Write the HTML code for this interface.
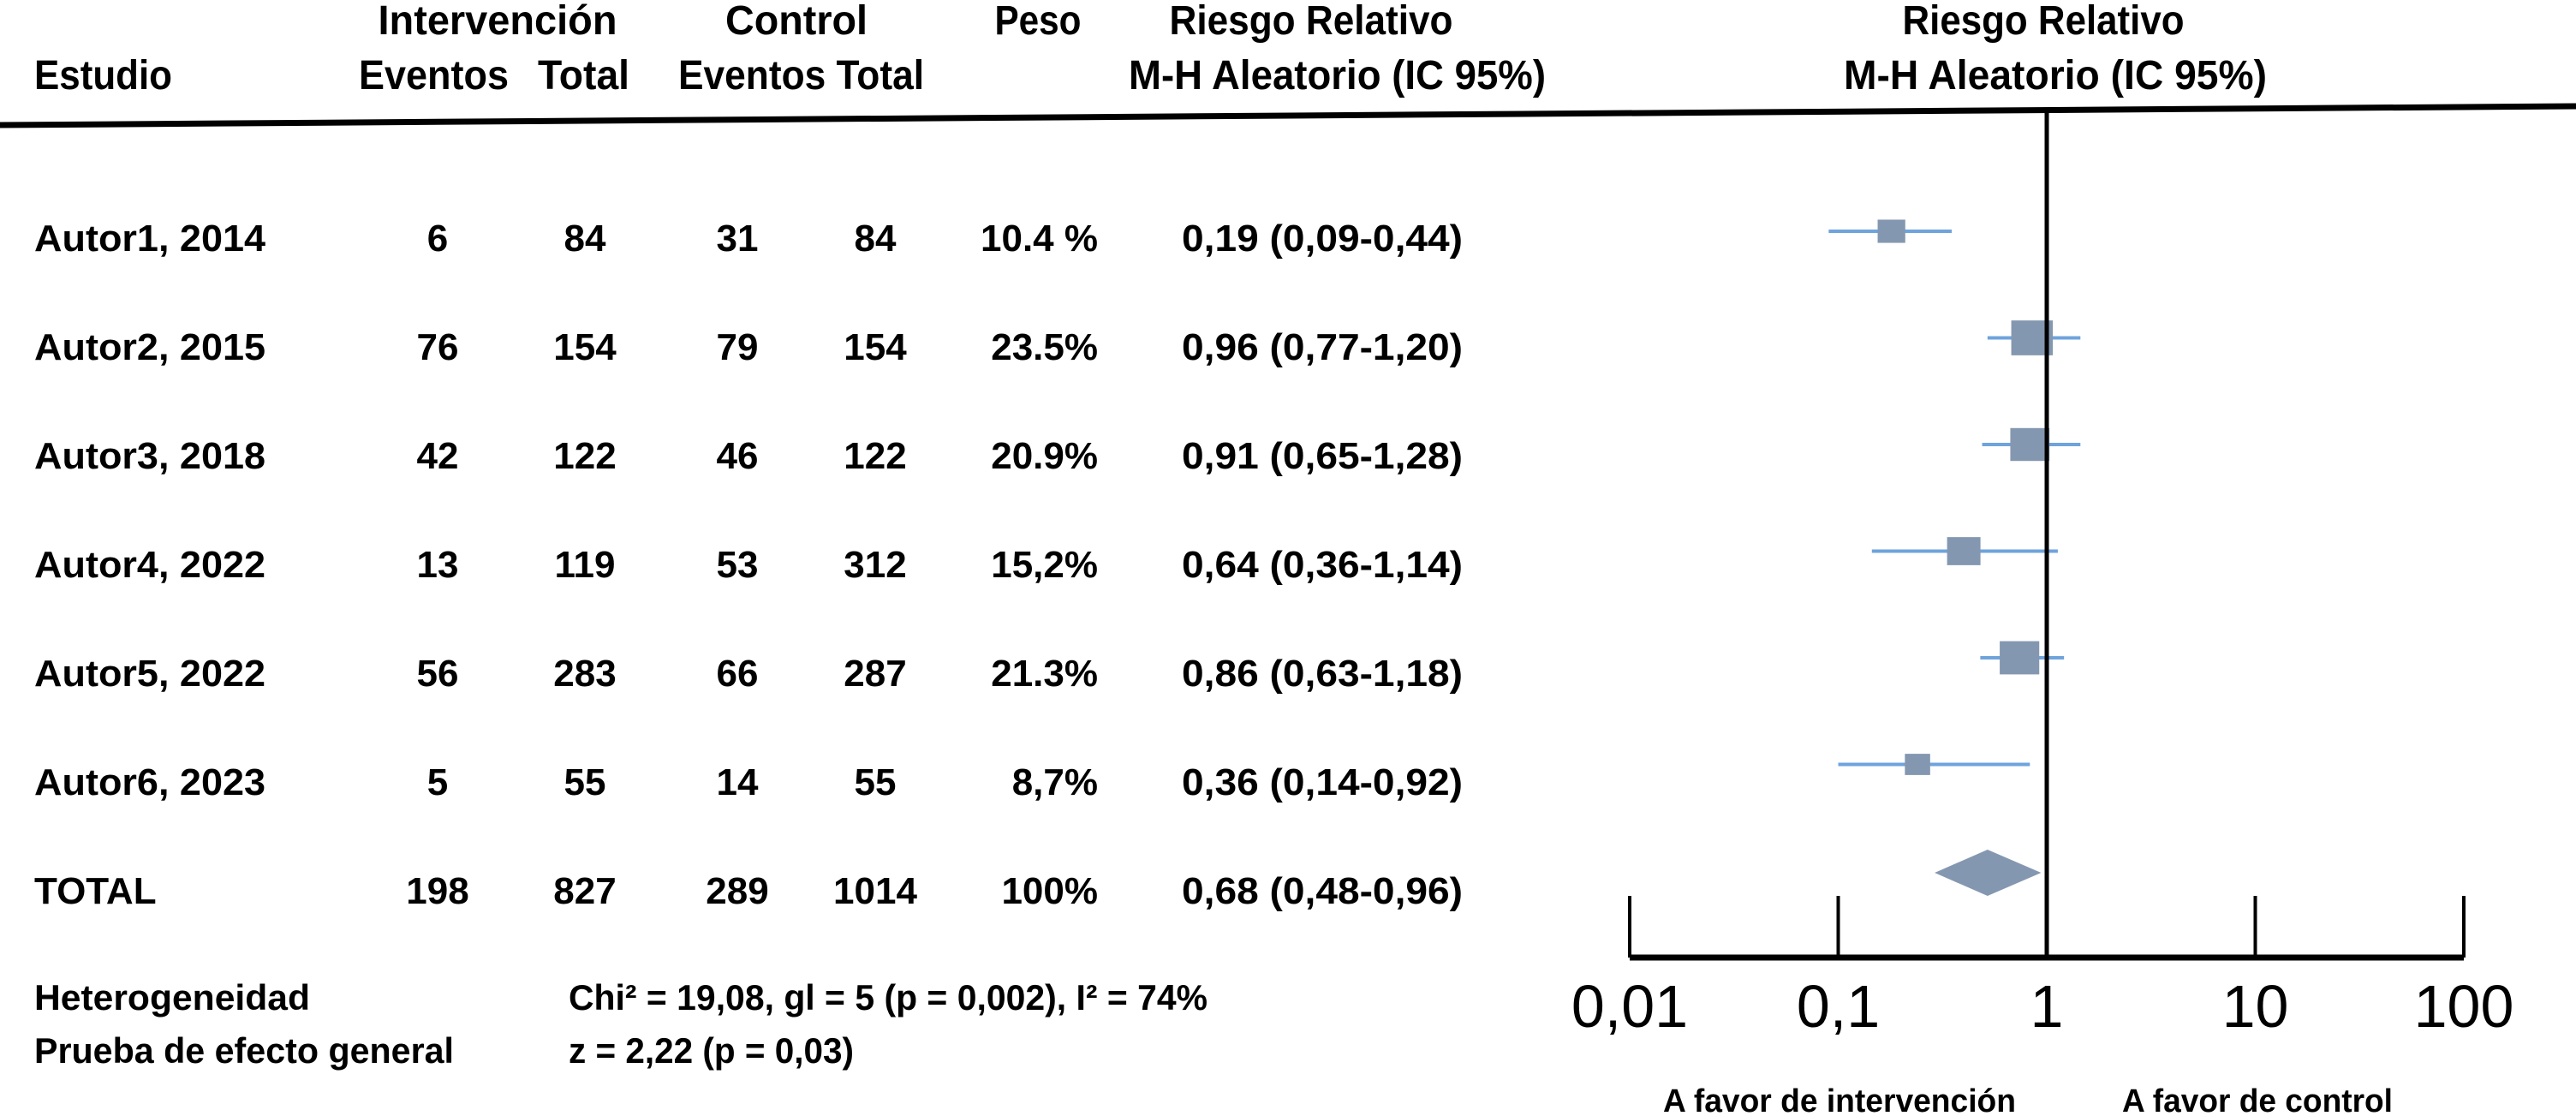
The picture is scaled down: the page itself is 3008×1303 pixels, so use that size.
<!DOCTYPE html>
<html><head><meta charset="utf-8"><style>
html,body{margin:0;padding:0;background:#fff;}
svg{display:block;}
text{font-family:"Liberation Sans Narrow","Liberation Sans",sans-serif;font-weight:bold;fill:#000;}
</style></head><body>
<svg id="plot" width="3008" height="1303" viewBox="0 0 3008 1303" xmlns="http://www.w3.org/2000/svg">
<g font-size="48">
<text x="581" y="40" text-anchor="middle" textLength="279" lengthAdjust="spacingAndGlyphs">Intervención</text>
<text x="930" y="40" text-anchor="middle" textLength="166" lengthAdjust="spacingAndGlyphs">Control</text>
<text x="1212" y="40" text-anchor="middle" textLength="101" lengthAdjust="spacingAndGlyphs">Peso</text>
<text x="1531" y="40" text-anchor="middle" textLength="331" lengthAdjust="spacingAndGlyphs">Riesgo Relativo</text>
<text x="40" y="104" textLength="161" lengthAdjust="spacingAndGlyphs">Estudio</text>
<text x="419" y="104" textLength="175" lengthAdjust="spacingAndGlyphs">Eventos</text>
<text x="628" y="104" textLength="107" lengthAdjust="spacingAndGlyphs">Total</text>
<text x="792" y="104" textLength="287" lengthAdjust="spacingAndGlyphs">Eventos Total</text>
<text x="1318" y="104" textLength="487" lengthAdjust="spacingAndGlyphs">M-H Aleatorio (IC 95%)</text>
<text x="2386" y="40" text-anchor="middle" textLength="329" lengthAdjust="spacingAndGlyphs">Riesgo Relativo</text>
<text x="2400" y="104" text-anchor="middle" textLength="494" lengthAdjust="spacingAndGlyphs">M-H Aleatorio (IC 95%)</text>
</g>
<line x1="0" y1="146" x2="3008" y2="124" stroke="#000" stroke-width="7"/>
<g id="rows" font-size="44"></g>
<g id="marks"></g>
<g id="axis"></g>
<g font-size="42">
<text x="40" y="1179" textLength="322" lengthAdjust="spacingAndGlyphs">Heterogeneidad</text>
<text x="40" y="1241" textLength="490" lengthAdjust="spacingAndGlyphs">Prueba de efecto general</text>
<text x="664" y="1179" textLength="746" lengthAdjust="spacingAndGlyphs">Chi² = 19,08, gl = 5 (p = 0,002), I² = 74%</text>
<text x="664" y="1241" textLength="333" lengthAdjust="spacingAndGlyphs">z = 2,22 (p = 0,03)</text>
</g>
<text x="2148" y="1298" font-size="38" text-anchor="middle" textLength="412" lengthAdjust="spacingAndGlyphs">A favor de intervención</text>
<text x="2636" y="1298" font-size="38" text-anchor="middle" textLength="316" lengthAdjust="spacingAndGlyphs">A favor de control</text>
</svg>
<script>
const studies = ["Autor1, 2014","Autor2, 2015","Autor3, 2018","Autor4, 2022","Autor5, 2022","Autor6, 2023","TOTAL"];
const intEvents = [6,76,42,13,56,5,198];
const intTotal = [84,154,122,119,283,55,827];
const ctrlEvents = [31,79,46,53,66,14,289];
const ctrlTotal = [84,154,122,312,287,55,1014];
const weightLabels = ["10.4 %","23.5%","20.9%","15,2%","21.3%","8,7%","100%"];
const weights = [10.4,23.5,20.9,15.2,21.3,8.7,100];
const rrLabels = ["0,19 (0,09-0,44)","0,96 (0,77-1,20)","0,91 (0,65-1,28)","0,64 (0,36-1,14)","0,86 (0,63-1,18)","0,36 (0,14-0,92)","0,68 (0,48-0,96)"];
const plotRR = [0.18,0.85,0.83,0.40,0.74,0.24,0.52];
const plotLo = [0.09,0.52,0.49,0.145,0.48,0.10,0.29];
const plotHi = [0.35,1.45,1.45,1.13,1.21,0.83,0.94];
const tickValues = [0.01,0.1,1,10,100];
const tickLabels = ["0,01","0,1","1","10","100"];

const NS="http://www.w3.org/2000/svg";
const X0=2390, DEC=243.5;
function xScale(v){return X0+DEC*Math.log10(v);}
function yRow(i){return 277+127*i;}
function yMark(i){return 270+124.5*i;}
function mk(tag,attrs,parent){const e=document.createElementNS(NS,tag);for(const k in attrs)e.setAttribute(k,attrs[k]);parent.appendChild(e);return e;}
const rows=document.getElementById('rows'), marks=document.getElementById('marks'), axis=document.getElementById('axis');
studies.forEach((s,i)=>{
  const y=yRow(i)+16;
  let t=mk('text',{x:40,y:y},rows); t.textContent=s;
  if(s!=="TOTAL"){t.setAttribute('textLength',270);t.setAttribute('lengthAdjust','spacingAndGlyphs');}
  
  
  const cols=[[511,intEvents[i]],[683,intTotal[i]],[861,ctrlEvents[i]],[1022,ctrlTotal[i]]];
  cols.forEach(c=>{const n=mk('text',{x:c[0],y:y,'text-anchor':'middle'},rows);n.textContent=c[1];
    
    });
  const w=mk('text',{x:1282,y:y,'text-anchor':'end'},rows); w.textContent=weightLabels[i];
  
  
  const r=mk('text',{x:1380,y:y,textLength:328,lengthAdjust:'spacingAndGlyphs'},rows); r.textContent=rrLabels[i];
  
  
  const yc=yMark(i);
  if(i<studies.length-1){
    const l=mk('line',{x1:xScale(plotLo[i]),x2:xScale(plotHi[i]),y1:yc,y2:yc,stroke:'#6fa3dc','stroke-width':4},marks);
    
    
    const sz=10*Math.sqrt(weights[i]);
    const sq=mk('rect',{x:xScale(plotRR[i])-sz/2,y:yc-sz*0.42,width:sz,height:sz*0.84,fill:'#8497b0'},marks);
    
    
  } else {
    const yd=1019;
    const d=mk('polygon',{points:`${xScale(plotLo[i])},${yd} ${xScale(plotRR[i])},${yd-27} ${xScale(plotHi[i])},${yd} ${xScale(plotRR[i])},${yd+27}`,fill:'#8497b0'},marks);
    
    
  }
});
const AY=1118;
const base=mk('line',{x1:xScale(0.01),x2:xScale(100),y1:AY,y2:AY,stroke:'#000','stroke-width':7},axis);


const ref=mk('line',{x1:xScale(1),x2:xScale(1),y1:130,y2:AY,stroke:'#000','stroke-width':5},axis);


tickValues.forEach((v,i)=>{
  const x=xScale(v);
  const tk=mk('line',{x1:x,x2:x,y1:1046,y2:AY,stroke:'#000','stroke-width':4},axis);
  
  
  const tl=mk('text',{x:x,y:1199,'text-anchor':'middle','font-size':70},axis);
  tl.style.fontWeight='normal';
  tl.textContent=tickLabels[i];
  
  
});
</script>
</body></html>
